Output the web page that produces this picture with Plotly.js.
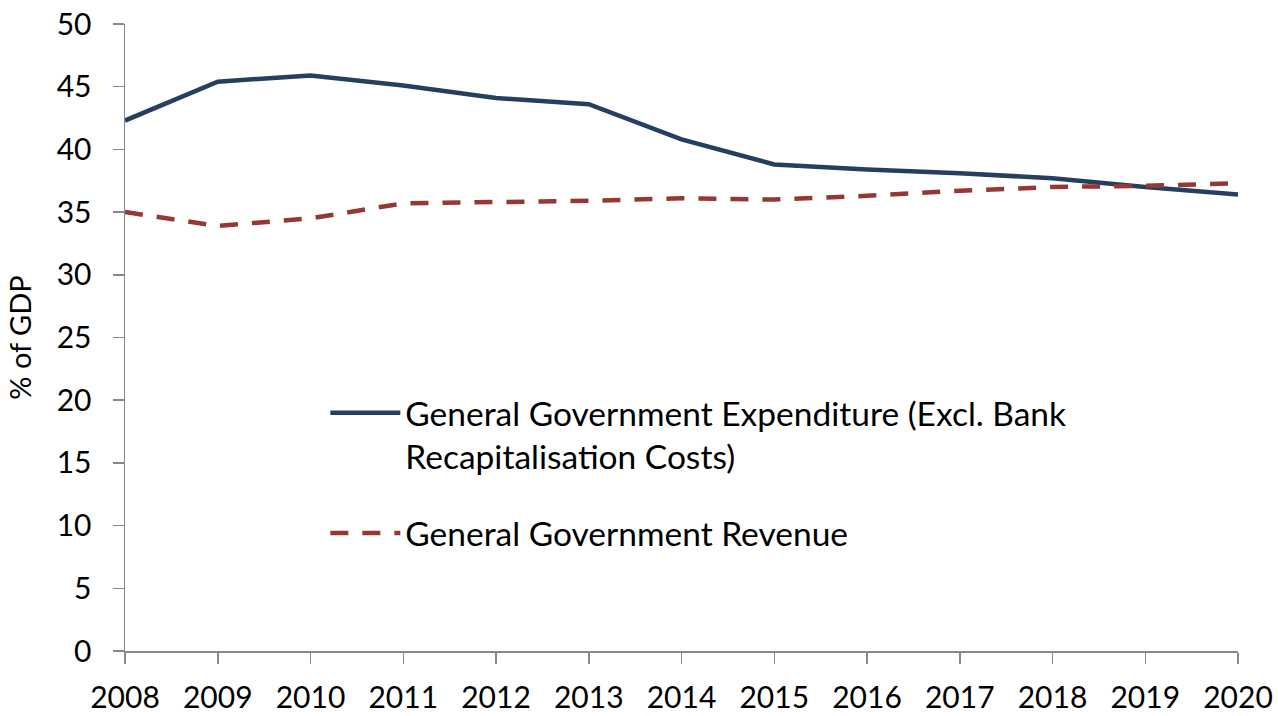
<!DOCTYPE html>
<html>
<head>
<meta charset="utf-8">
<script src="https://cdn.plot.ly/plotly-3.0.1.min.js"></script>
<style>html,body{margin:0;padding:0;background:#fff;}#chart{width:1278px;height:716px;}</style>
</head>
<body>
<div id="chart"></div>
<script>
const years = [2008, 2009, 2010, 2011, 2012, 2013, 2014, 2015, 2016, 2017, 2018, 2019, 2020];
const expenditure = [42.3, 45.4, 45.9, 45.1, 44.1, 43.6, 40.8, 38.8, 38.4, 38.1, 37.7, 37.0, 36.4];
const revenue = [35.0, 33.9, 34.5, 35.7, 35.8, 35.9, 36.1, 36.0, 36.3, 36.7, 37.0, 37.1, 37.3];
const expName = "General Government Expenditure (Excl. Bank<br>Recapitalisation Costs)";
const revName = "General Government Revenue";

const font = "Lato, 'Open Sans', sans-serif";
const traces = [
  {x: years, y: expenditure, name: expName, type: "scatter", mode: "lines", legendgroup: "exp",
   line: {color: "#253F60", width: 4.5}},
  {x: years, y: revenue, name: revName, type: "scatter", mode: "lines", legendgroup: "rev",
   line: {color: "#953735", width: 4.5, dash: "18px,14px"}}
];
const layout = {
  width: 1278, height: 716,
  margin: {l: 125, r: 40, t: 24, b: 65},
  paper_bgcolor: "#fff", plot_bgcolor: "#fff",
  font: {family: font, size: 30, color: "#000"},
  showlegend: true,
  legend: {x: 0.18, y: 0.425, xanchor: "left", yanchor: "top", valign: "top",
           font: {family: font, size: 33.5, color: "#000"},
           tracegroupgap: 30, itemwidth: 70, bgcolor: "rgba(0,0,0,0)"},
  xaxis: {range: [2008, 2020], tickvals: years, ticktext: years.map(String),
          showgrid: false, zeroline: false, showline: true, linecolor: "#888", linewidth: 1.5,
          ticks: "outside", ticklen: 11, tickcolor: "#888", tickwidth: 1.5,
          ticklabelstandoff: 8,
          tickfont: {family: font, size: 30}, fixedrange: true},
  yaxis: {range: [0, 50], tickvals: [0,5,10,15,20,25,30,35,40,45,50],
          showgrid: false, zeroline: false, showline: true, linecolor: "#888", linewidth: 1.5,
          ticks: "outside", ticklen: 11, tickcolor: "#888", tickwidth: 1.5,
          ticklabelstandoff: 15,
          tickfont: {family: font, size: 30},
          title: {text: "% of GDP", font: {family: font, size: 29}, standoff: 16}}
};
Plotly.newPlot("chart", traces, layout, {displayModeBar: false, staticPlot: true});
</script>
</body>
</html>
